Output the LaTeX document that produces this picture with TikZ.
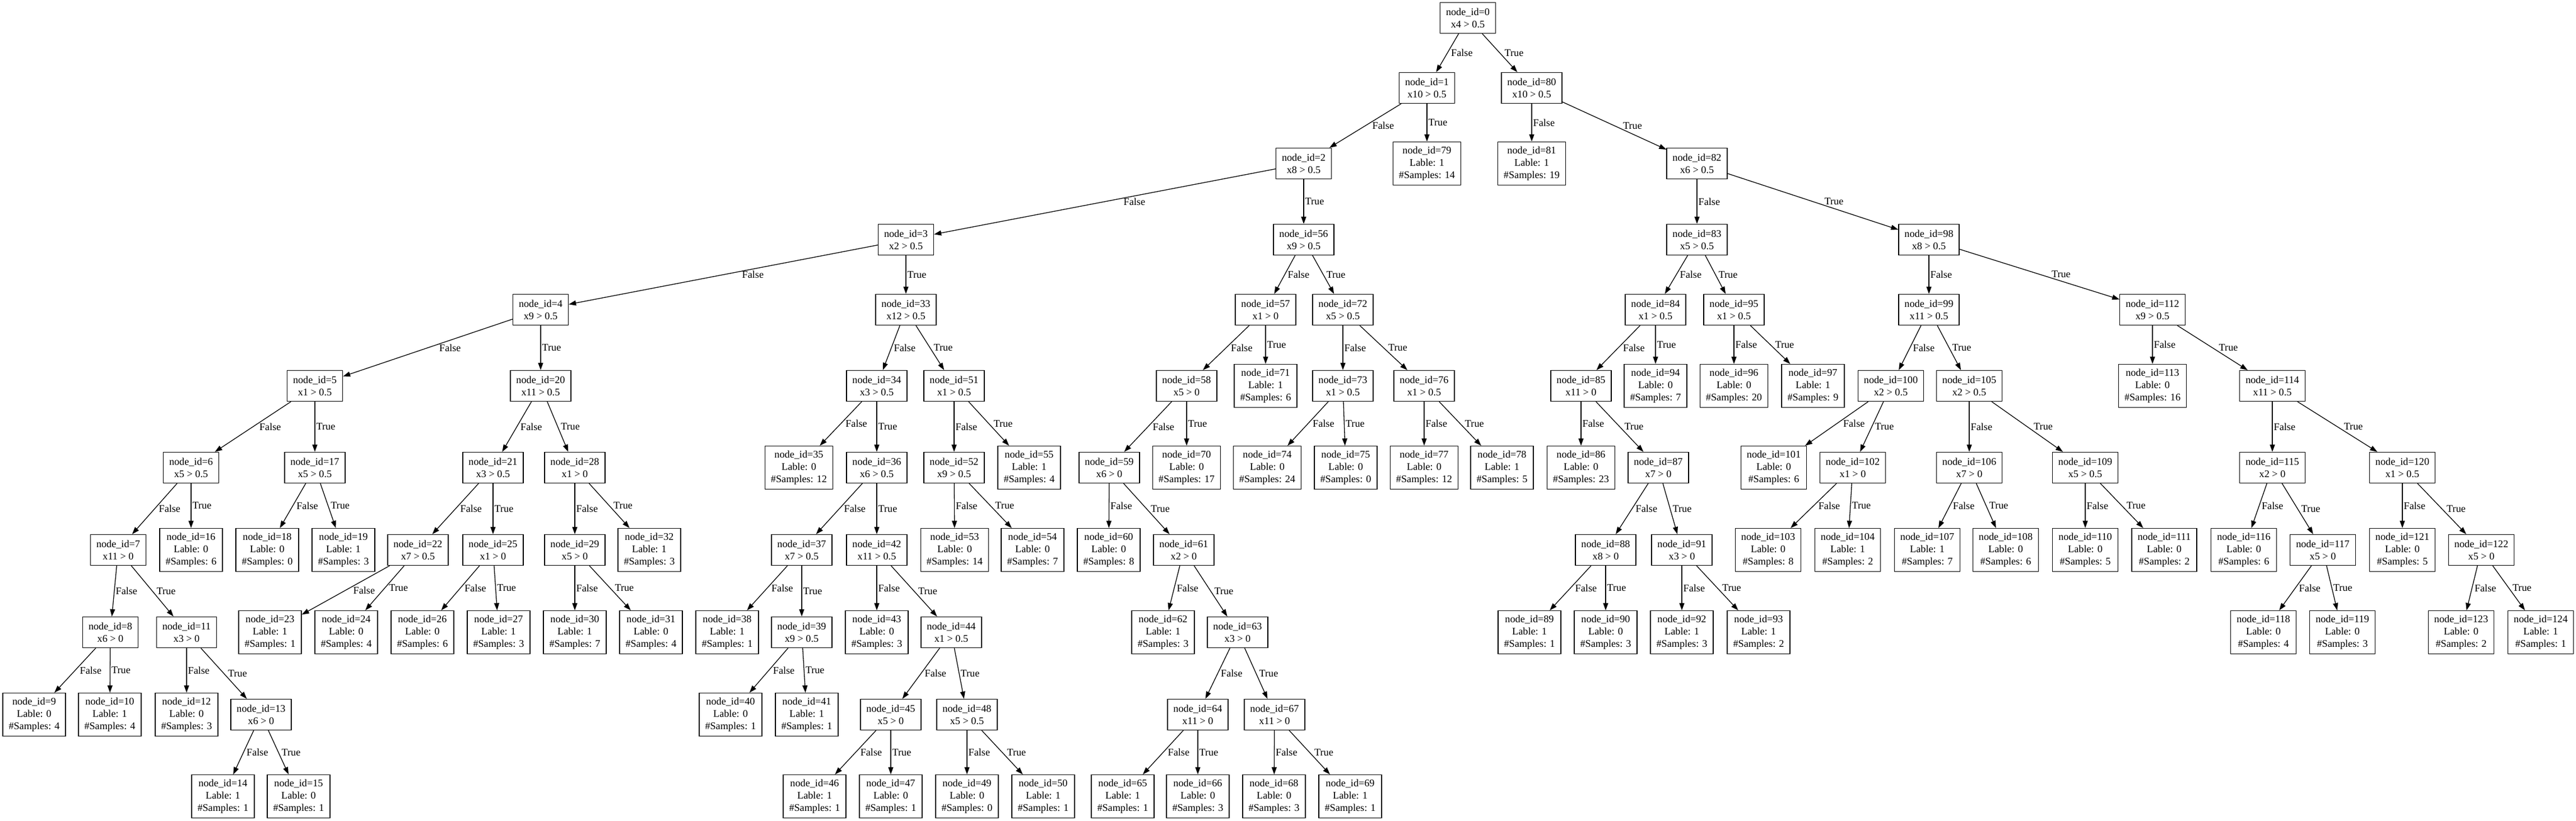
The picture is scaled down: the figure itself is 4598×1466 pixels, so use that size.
\documentclass[tikz,border=0pt]{standalone}
\usepackage{fontspec}
\setmainfont{Liberation Serif}
\usetikzlibrary{arrows.meta}
\newcommand{\gv}{\fontsize{18.2pt}{22pt}\selectfont}
\tikzset{
  box/.style={draw,line width=1.3pt,font=\gv,align=center,inner xsep=10.5pt,inner ysep=2pt},
  split/.style={box,minimum height=55pt},
  leaf/.style={box,minimum height=77pt},
  edge/.style={line width=1.3pt,-{Triangle[length=13pt,width=9pt]}},
  lbl/.style={font=\gv,inner sep=2pt,anchor=west,midway}
}
\begin{document}
\begin{tikzpicture}[x=1pt,y=-1pt]
\useasboundingbox (0,0) rectangle (4598,1466);
% rank 0 - 2
\node[split] (n0) at (2620,32) {node\_id=0\\x4 > 0.5};
\node[split] (n1) at (2547,157) {node\_id=1\\x10 > 0.5};
\node[split] (n80) at (2734,157) {node\_id=80\\x10 > 0.5};
\node[split] (n2) at (2327,292) {node\_id=2\\x8 > 0.5};
\node[leaf] (n79) at (2547,292) {node\_id=79\\Lable: 1\\\#Samples: 14};
\node[leaf] (n81) at (2734,292) {node\_id=81\\Lable: 1\\\#Samples: 19};
\node[split] (n82) at (3029,292) {node\_id=82\\x6 > 0.5};
% rank 3
\node[split] (n3) at (1617,428) {node\_id=3\\x2 > 0.5};
\node[split] (n56) at (2327,428) {node\_id=56\\x9 > 0.5};
\node[split] (n83) at (3029,428) {node\_id=83\\x5 > 0.5};
\node[split] (n98) at (3443,428) {node\_id=98\\x8 > 0.5};
% rank 4
\node[split] (n4) at (965,553) {node\_id=4\\x9 > 0.5};
\node[split] (n33) at (1617,553) {node\_id=33\\x12 > 0.5};
\node[split] (n57) at (2259,553) {node\_id=57\\x1 > 0};
\node[split] (n72) at (2397,553) {node\_id=72\\x5 > 0.5};
\node[split] (n84) at (2955,553) {node\_id=84\\x1 > 0.5};
\node[split] (n95) at (3095,553) {node\_id=95\\x1 > 0.5};
\node[split] (n99) at (3443,553) {node\_id=99\\x11 > 0.5};
\node[split] (n112) at (3842,553) {node\_id=112\\x9 > 0.5};
% rank 5
\node[split] (n5) at (562,689) {node\_id=5\\x1 > 0.5};
\node[split] (n20) at (965,689) {node\_id=20\\x11 > 0.5};
\node[split] (n34) at (1565,689) {node\_id=34\\x3 > 0.5};
\node[split] (n51) at (1703,689) {node\_id=51\\x1 > 0.5};
\node[split] (n58) at (2118,689) {node\_id=58\\x5 > 0};
\node[leaf] (n71) at (2259,689) {node\_id=71\\Lable: 1\\\#Samples: 6};
\node[split] (n73) at (2397,689) {node\_id=73\\x1 > 0.5};
\node[split] (n76) at (2542,689) {node\_id=76\\x1 > 0.5};
\node[split] (n85) at (2822,689) {node\_id=85\\x11 > 0};
\node[leaf] (n94) at (2955,689) {node\_id=94\\Lable: 0\\\#Samples: 7};
\node[leaf] (n96) at (3095,689) {node\_id=96\\Lable: 0\\\#Samples: 20};
\node[leaf] (n97) at (3236,689) {node\_id=97\\Lable: 1\\\#Samples: 9};
\node[split] (n100) at (3375,689) {node\_id=100\\x2 > 0.5};
\node[split] (n105) at (3515,689) {node\_id=105\\x2 > 0.5};
\node[leaf] (n113) at (3842,689) {node\_id=113\\Lable: 0\\\#Samples: 16};
\node[split] (n114) at (4056,689) {node\_id=114\\x11 > 0.5};
% rank 6
\node[split] (n6) at (341,835) {node\_id=6\\x5 > 0.5};
\node[split] (n17) at (562,835) {node\_id=17\\x5 > 0.5};
\node[split] (n21) at (880,835) {node\_id=21\\x3 > 0.5};
\node[split] (n28) at (1026,835) {node\_id=28\\x1 > 0};
\node[leaf] (n35) at (1426,835) {node\_id=35\\Lable: 0\\\#Samples: 12};
\node[split] (n36) at (1565,835) {node\_id=36\\x6 > 0.5};
\node[split] (n52) at (1703,835) {node\_id=52\\x9 > 0.5};
\node[leaf] (n55) at (1837,835) {node\_id=55\\Lable: 1\\\#Samples: 4};
\node[split] (n59) at (1980,835) {node\_id=59\\x6 > 0};
\node[leaf] (n70) at (2118,835) {node\_id=70\\Lable: 0\\\#Samples: 17};
\node[leaf] (n74) at (2262,835) {node\_id=74\\Lable: 0\\\#Samples: 24};
\node[leaf] (n75) at (2402,835) {node\_id=75\\Lable: 0\\\#Samples: 0};
\node[leaf] (n77) at (2542,835) {node\_id=77\\Lable: 0\\\#Samples: 12};
\node[leaf] (n78) at (2681,835) {node\_id=78\\Lable: 1\\\#Samples: 5};
\node[leaf] (n86) at (2822,835) {node\_id=86\\Lable: 0\\\#Samples: 23};
\node[split] (n87) at (2960,835) {node\_id=87\\x7 > 0};
\node[leaf] (n101) at (3166,835) {node\_id=101\\Lable: 0\\\#Samples: 6};
\node[split] (n102) at (3307,835) {node\_id=102\\x1 > 0};
\node[split] (n106) at (3515,835) {node\_id=106\\x7 > 0};
\node[split] (n109) at (3722,835) {node\_id=109\\x5 > 0.5};
\node[split] (n115) at (4056,835) {node\_id=115\\x2 > 0};
\node[split] (n120) at (4288,835) {node\_id=120\\x1 > 0.5};
% rank 7
\node[split] (n7) at (211,982) {node\_id=7\\x11 > 0};
\node[leaf] (n16) at (341,982) {node\_id=16\\Lable: 0\\\#Samples: 6};
\node[leaf] (n18) at (477,982) {node\_id=18\\Lable: 0\\\#Samples: 0};
\node[leaf] (n19) at (613,982) {node\_id=19\\Lable: 1\\\#Samples: 3};
\node[split] (n22) at (746,982) {node\_id=22\\x7 > 0.5};
\node[split] (n25) at (880,982) {node\_id=25\\x1 > 0};
\node[split] (n29) at (1026,982) {node\_id=29\\x5 > 0};
\node[leaf] (n32) at (1159,982) {node\_id=32\\Lable: 1\\\#Samples: 3};
\node[split] (n37) at (1431,982) {node\_id=37\\x7 > 0.5};
\node[split] (n42) at (1565,982) {node\_id=42\\x11 > 0.5};
\node[leaf] (n53) at (1704,982) {node\_id=53\\Lable: 0\\\#Samples: 14};
\node[leaf] (n54) at (1843,982) {node\_id=54\\Lable: 0\\\#Samples: 7};
\node[leaf] (n60) at (1979,982) {node\_id=60\\Lable: 0\\\#Samples: 8};
\node[split] (n61) at (2113,982) {node\_id=61\\x2 > 0};
\node[split] (n88) at (2866,982) {node\_id=88\\x8 > 0};
\node[split] (n91) at (3002,982) {node\_id=91\\x3 > 0};
\node[leaf] (n103) at (3156,982) {node\_id=103\\Lable: 0\\\#Samples: 8};
\node[leaf] (n104) at (3298,982) {node\_id=104\\Lable: 1\\\#Samples: 2};
\node[leaf] (n107) at (3440,982) {node\_id=107\\Lable: 1\\\#Samples: 7};
\node[leaf] (n108) at (3580,982) {node\_id=108\\Lable: 0\\\#Samples: 6};
\node[leaf] (n110) at (3722,982) {node\_id=110\\Lable: 0\\\#Samples: 5};
\node[leaf] (n111) at (3863,982) {node\_id=111\\Lable: 0\\\#Samples: 2};
\node[leaf] (n116) at (4005,982) {node\_id=116\\Lable: 0\\\#Samples: 6};
\node[split] (n117) at (4146,982) {node\_id=117\\x5 > 0};
\node[leaf] (n121) at (4288,982) {node\_id=121\\Lable: 0\\\#Samples: 5};
\node[split] (n122) at (4429,982) {node\_id=122\\x5 > 0};
% rank 8
\node[split] (n8) at (197,1129) {node\_id=8\\x6 > 0};
\node[split] (n11) at (333,1129) {node\_id=11\\x3 > 0};
\node[leaf] (n23) at (482,1129) {node\_id=23\\Lable: 1\\\#Samples: 1};
\node[leaf] (n24) at (618,1129) {node\_id=24\\Lable: 0\\\#Samples: 4};
\node[leaf] (n26) at (754,1129) {node\_id=26\\Lable: 0\\\#Samples: 6};
\node[leaf] (n27) at (890,1129) {node\_id=27\\Lable: 1\\\#Samples: 3};
\node[leaf] (n30) at (1026,1129) {node\_id=30\\Lable: 1\\\#Samples: 7};
\node[leaf] (n31) at (1162,1129) {node\_id=31\\Lable: 0\\\#Samples: 4};
\node[leaf] (n38) at (1298,1129) {node\_id=38\\Lable: 1\\\#Samples: 1};
\node[split] (n39) at (1431,1129) {node\_id=39\\x9 > 0.5};
\node[leaf] (n43) at (1565,1129) {node\_id=43\\Lable: 0\\\#Samples: 3};
\node[split] (n44) at (1698,1129) {node\_id=44\\x1 > 0.5};
\node[leaf] (n62) at (2076,1129) {node\_id=62\\Lable: 1\\\#Samples: 3};
\node[split] (n63) at (2209,1129) {node\_id=63\\x3 > 0};
\node[leaf] (n89) at (2730,1129) {node\_id=89\\Lable: 1\\\#Samples: 1};
\node[leaf] (n90) at (2866,1129) {node\_id=90\\Lable: 0\\\#Samples: 3};
\node[leaf] (n92) at (3002,1129) {node\_id=92\\Lable: 1\\\#Samples: 3};
\node[leaf] (n93) at (3139,1129) {node\_id=93\\Lable: 1\\\#Samples: 2};
\node[leaf] (n118) at (4040,1129) {node\_id=118\\Lable: 0\\\#Samples: 4};
\node[leaf] (n119) at (4181,1129) {node\_id=119\\Lable: 0\\\#Samples: 3};
\node[leaf] (n123) at (4393,1129) {node\_id=123\\Lable: 0\\\#Samples: 2};
\node[leaf] (n124) at (4535,1129) {node\_id=124\\Lable: 1\\\#Samples: 1};
% rank 9
\node[leaf] (n9) at (61,1276) {node\_id=9\\Lable: 0\\\#Samples: 4};
\node[leaf] (n10) at (196,1276) {node\_id=10\\Lable: 1\\\#Samples: 4};
\node[leaf] (n12) at (333,1276) {node\_id=12\\Lable: 0\\\#Samples: 3};
\node[split] (n13) at (466,1276) {node\_id=13\\x6 > 0};
\node[leaf] (n40) at (1304,1276) {node\_id=40\\Lable: 0\\\#Samples: 1};
\node[leaf] (n41) at (1440,1276) {node\_id=41\\Lable: 1\\\#Samples: 1};
\node[split] (n45) at (1590,1276) {node\_id=45\\x5 > 0};
\node[split] (n48) at (1726,1276) {node\_id=48\\x5 > 0.5};
\node[split] (n64) at (2138,1276) {node\_id=64\\x11 > 0};
\node[split] (n67) at (2275,1276) {node\_id=67\\x11 > 0};
% rank 10
\node[leaf] (n14) at (398,1422) {node\_id=14\\Lable: 1\\\#Samples: 1};
\node[leaf] (n15) at (533,1422) {node\_id=15\\Lable: 0\\\#Samples: 1};
\node[leaf] (n46) at (1454,1422) {node\_id=46\\Lable: 1\\\#Samples: 1};
\node[leaf] (n47) at (1590,1422) {node\_id=47\\Lable: 0\\\#Samples: 1};
\node[leaf] (n49) at (1726,1422) {node\_id=49\\Lable: 0\\\#Samples: 0};
\node[leaf] (n50) at (1862,1422) {node\_id=50\\Lable: 1\\\#Samples: 1};
\node[leaf] (n65) at (2004,1422) {node\_id=65\\Lable: 1\\\#Samples: 1};
\node[leaf] (n66) at (2138,1422) {node\_id=66\\Lable: 0\\\#Samples: 3};
\node[leaf] (n68) at (2274,1422) {node\_id=68\\Lable: 0\\\#Samples: 3};
\node[leaf] (n69) at (2410,1422) {node\_id=69\\Lable: 1\\\#Samples: 1};
% edges
\draw[edge] (n0) -- node[lbl,xshift=4pt]{False} (n1);
\draw[edge] (n0) -- node[lbl,xshift=6pt]{True} (n80);
\draw[edge] (n1) -- node[lbl,xshift=10pt]{False} (n2);
\draw[edge] (n1) -- node[lbl]{True} (n79);
\draw[edge] (n80) -- node[lbl]{False} (n81);
\draw[edge] (n80) -- node[lbl,xshift=13pt]{True} (n82);
\draw[edge] (n2) -- node[lbl,xshift=31pt]{False} (n3);
\draw[edge] (n2) -- node[lbl]{True} (n56);
\draw[edge] (n82) -- node[lbl]{False} (n83);
\draw[edge] (n82) -- node[lbl,xshift=18pt]{True} (n98);
\draw[edge] (n3) -- node[lbl,xshift=31pt]{False} (n4);
\draw[edge] (n3) -- node[lbl]{True} (n33);
\draw[edge] (n56) -- node[lbl,xshift=3pt]{False} (n57);
\draw[edge] (n56) -- node[lbl,xshift=3pt]{True} (n72);
\draw[edge] (n83) -- node[lbl,xshift=4pt]{False} (n84);
\draw[edge] (n83) -- node[lbl,xshift=3pt]{True} (n95);
\draw[edge] (n98) -- node[lbl]{False} (n99);
\draw[edge] (n98) -- node[lbl,xshift=19pt]{True} (n112);
\draw[edge] (n4) -- node[lbl,xshift=18pt]{False} (n5);
\draw[edge] (n4) -- node[lbl]{True} (n20);
\draw[edge] (n33) -- node[lbl,xshift=2pt]{False} (n34);
\draw[edge] (n33) -- node[lbl,xshift=4pt]{True} (n51);
\draw[edge] (n57) -- node[lbl,xshift=6pt]{False} (n58);
\draw[edge] (n57) -- node[lbl]{True} (n71);
\draw[edge] (n72) -- node[lbl]{False} (n73);
\draw[edge] (n72) -- node[lbl,xshift=6pt]{True} (n76);
\draw[edge] (n84) -- node[lbl,xshift=6pt]{False} (n85);
\draw[edge] (n84) -- node[lbl]{True} (n94);
\draw[edge] (n95) -- node[lbl]{False} (n96);
\draw[edge] (n95) -- node[lbl,xshift=6pt]{True} (n97);
\draw[edge] (n99) -- node[lbl,xshift=3pt]{False} (n100);
\draw[edge] (n99) -- node[lbl,xshift=3pt]{True} (n105);
\draw[edge] (n112) -- node[lbl]{False} (n113);
\draw[edge] (n112) -- node[lbl,xshift=9pt]{True} (n114);
\draw[edge] (n5) -- node[lbl,xshift=9pt]{False} (n6);
\draw[edge] (n5) -- node[lbl]{True} (n17);
\draw[edge] (n20) -- node[lbl,xshift=4pt]{False} (n21);
\draw[edge] (n20) -- node[lbl,xshift=3pt]{True} (n28);
\draw[edge] (n34) -- node[lbl,xshift=6pt]{False} (n35);
\draw[edge] (n34) -- node[lbl]{True} (n36);
\draw[edge] (n51) -- node[lbl]{False} (n52);
\draw[edge] (n51) -- node[lbl,xshift=6pt]{True} (n55);
\draw[edge] (n58) -- node[lbl,xshift=6pt]{False} (n59);
\draw[edge] (n58) -- node[lbl]{True} (n70);
\draw[edge] (n73) -- node[lbl,xshift=6pt]{False} (n74);
\draw[edge] (n73) -- node[lbl]{True} (n75);
\draw[edge] (n76) -- node[lbl]{False} (n77);
\draw[edge] (n76) -- node[lbl,xshift=6pt]{True} (n78);
\draw[edge] (n85) -- node[lbl]{False} (n86);
\draw[edge] (n85) -- node[lbl,xshift=6pt]{True} (n87);
\draw[edge] (n100) -- node[lbl,xshift=9pt]{False} (n101);
\draw[edge] (n100) -- node[lbl,xshift=3pt]{True} (n102);
\draw[edge] (n105) -- node[lbl]{False} (n106);
\draw[edge] (n105) -- node[lbl,xshift=9pt]{True} (n109);
\draw[edge] (n114) -- node[lbl]{False} (n115);
\draw[edge] (n114) -- node[lbl,xshift=9pt]{True} (n120);
\draw[edge] (n6) -- node[lbl,xshift=5pt]{False} (n7);
\draw[edge] (n6) -- node[lbl]{True} (n16);
\draw[edge] (n17) -- node[lbl,xshift=4pt]{False} (n18);
\draw[edge] (n17) -- node[lbl,xshift=2pt]{True} (n19);
\draw[edge] (n21) -- node[lbl,xshift=6pt]{False} (n22);
\draw[edge] (n21) -- node[lbl]{True} (n25);
\draw[edge] (n28) -- node[lbl]{False} (n29);
\draw[edge] (n28) -- node[lbl,xshift=5pt]{True} (n32);
\draw[edge] (n36) -- node[lbl,xshift=6pt]{False} (n37);
\draw[edge] (n36) -- node[lbl]{True} (n42);
\draw[edge] (n52) -- node[lbl]{False} (n53);
\draw[edge] (n52) -- node[lbl,xshift=6pt]{True} (n54);
\draw[edge] (n59) -- node[lbl]{False} (n60);
\draw[edge] (n59) -- node[lbl,xshift=5pt]{True} (n61);
\draw[edge] (n87) -- node[lbl,xshift=4pt]{False} (n88);
\draw[edge] (n87) -- node[lbl,xshift=2pt]{True} (n91);
\draw[edge] (n102) -- node[lbl,xshift=6pt]{False} (n103);
\draw[edge] (n102) -- node[lbl]{True} (n104);
\draw[edge] (n106) -- node[lbl,xshift=3pt]{False} (n107);
\draw[edge] (n106) -- node[lbl,xshift=3pt]{True} (n108);
\draw[edge] (n109) -- node[lbl]{False} (n110);
\draw[edge] (n109) -- node[lbl,xshift=6pt]{True} (n111);
\draw[edge] (n115) -- node[lbl,xshift=2pt]{False} (n116);
\draw[edge] (n115) -- node[lbl,xshift=4pt]{True} (n117);
\draw[edge] (n120) -- node[lbl]{False} (n121);
\draw[edge] (n120) -- node[lbl,xshift=6pt]{True} (n122);
\draw[edge] (n7) -- node[lbl]{False} (n8);
\draw[edge] (n7) -- node[lbl,xshift=5pt]{True} (n11);
\draw[edge] (n22) -- node[lbl,xshift=11pt]{False} (n23);
\draw[edge] (n22) -- node[lbl,xshift=5pt]{True} (n24);
\draw[edge] (n25) -- node[lbl,xshift=5pt]{False} (n26);
\draw[edge] (n25) -- node[lbl]{True} (n27);
\draw[edge] (n29) -- node[lbl]{False} (n30);
\draw[edge] (n29) -- node[lbl,xshift=6pt]{True} (n31);
\draw[edge] (n37) -- node[lbl,xshift=5pt]{False} (n38);
\draw[edge] (n37) -- node[lbl]{True} (n39);
\draw[edge] (n42) -- node[lbl]{False} (n43);
\draw[edge] (n42) -- node[lbl,xshift=5pt]{True} (n44);
\draw[edge] (n61) -- node[lbl,xshift=2pt]{False} (n62);
\draw[edge] (n61) -- node[lbl,xshift=4pt]{True} (n63);
\draw[edge] (n88) -- node[lbl,xshift=6pt]{False} (n89);
\draw[edge] (n88) -- node[lbl]{True} (n90);
\draw[edge] (n91) -- node[lbl]{False} (n92);
\draw[edge] (n91) -- node[lbl,xshift=6pt]{True} (n93);
\draw[edge] (n117) -- node[lbl,xshift=4pt]{False} (n118);
\draw[edge] (n117) -- node[lbl]{True} (n119);
\draw[edge] (n122) -- node[lbl,xshift=2pt]{False} (n123);
\draw[edge] (n122) -- node[lbl,xshift=4pt]{True} (n124);
\draw[edge] (n8) -- node[lbl,xshift=6pt]{False} (n9);
\draw[edge] (n8) -- node[lbl]{True} (n10);
\draw[edge] (n11) -- node[lbl]{False} (n12);
\draw[edge] (n11) -- node[lbl,xshift=5pt]{True} (n13);
\draw[edge] (n39) -- node[lbl,xshift=5pt]{False} (n40);
\draw[edge] (n39) -- node[lbl]{True} (n41);
\draw[edge] (n44) -- node[lbl,xshift=4pt]{False} (n45);
\draw[edge] (n44) -- node[lbl]{True} (n48);
\draw[edge] (n63) -- node[lbl,xshift=3pt]{False} (n64);
\draw[edge] (n63) -- node[lbl,xshift=3pt]{True} (n67);
\draw[edge] (n13) -- node[lbl,xshift=3pt]{False} (n14);
\draw[edge] (n13) -- node[lbl,xshift=3pt]{True} (n15);
\draw[edge] (n45) -- node[lbl,xshift=6pt]{False} (n46);
\draw[edge] (n45) -- node[lbl]{True} (n47);
\draw[edge] (n48) -- node[lbl]{False} (n49);
\draw[edge] (n48) -- node[lbl,xshift=6pt]{True} (n50);
\draw[edge] (n64) -- node[lbl,xshift=6pt]{False} (n65);
\draw[edge] (n64) -- node[lbl]{True} (n66);
\draw[edge] (n67) -- node[lbl]{False} (n68);
\draw[edge] (n67) -- node[lbl,xshift=6pt]{True} (n69);
\end{tikzpicture}
\end{document}
